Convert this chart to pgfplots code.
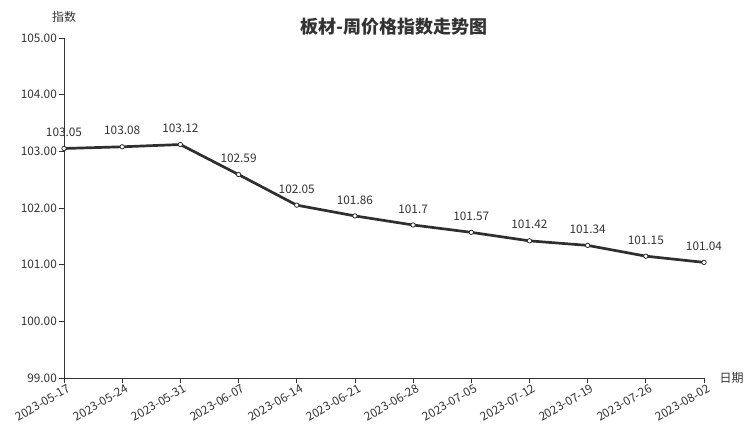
\documentclass[border=0pt]{standalone}
\usepackage{pgfplots}
\pgfplotsset{compat=1.18}
\usepackage{fontspec}
\setmainfont{Noto Sans CJK SC}
\definecolor{txt}{HTML}{333333}
\definecolor{ln}{HTML}{2F2F2F}
\begin{document}
\begin{tikzpicture}
\useasboundingbox (0pt,0pt) rectangle (752pt,427pt);
\begin{axis}[
  at={(64pt,49pt)}, anchor=south west,
  scale only axis, width=640pt, height=340pt,
  xmin=0, xmax=11, ymin=99, ymax=105,
  axis x line=bottom, axis y line=left,
  axis line style={-, color=txt, line width=0.8pt},
  tick align=outside, major tick length=5pt,
  tick style={color=txt, line width=0.8pt},
  xtick={0,...,11},
  xticklabels={2023-05-17,2023-05-24,2023-05-31,2023-06-07,2023-06-14,2023-06-21,2023-06-28,2023-07-05,2023-07-12,2023-07-19,2023-07-26,2023-08-02},
  x tick label style={rotate=30, anchor=north east, font=\fontsize{11.8}{13}\selectfont, text=txt, inner sep=1pt, xshift=3pt, yshift=-1pt},
  ytick={99,100,...,105},
  y tick label style={font=\fontsize{11.8}{13}\selectfont, text=txt, inner sep=2pt},
  yticklabel style={/pgf/number format/.cd, fixed, fixed zerofill, precision=2, assume math mode=true},
  /pgf/number format/assume math mode=true,
  clip=false,
  nodes near coords,
  point meta=explicit symbolic,
  every node near coord/.append style={font=\fontsize{11.8}{13}\selectfont, text=txt, yshift=8pt},
]
\addplot[color=ln, line width=2.7pt, mark=*, mark size=2.2pt, mark options={fill=white, draw=ln, line width=0.8pt}]
  table[x=x, y=y, meta=l] {
x y l
0 103.05 103.05
1 103.08 103.08
2 103.12 103.12
3 102.59 102.59
4 102.05 102.05
5 101.86 101.86
6 101.70 101.7
7 101.57 101.57
8 101.42 101.42
9 101.34 101.34
10 101.15 101.15
11 101.04 101.04
};
\node[font=\fontsize{12}{14}\selectfont, text=txt] at (rel axis cs:0,1) [yshift=21pt] {指数};
\node[font=\fontsize{12}{14}\selectfont, text=txt, anchor=west] at (rel axis cs:1,0) [xshift=12pt] {日期};
\end{axis}
\node[font=\fontsize{18}{20}\bfseries\selectfont, text=txt] at (394pt,400pt) {板材-周价格指数走势图};
\end{tikzpicture}
\end{document}
